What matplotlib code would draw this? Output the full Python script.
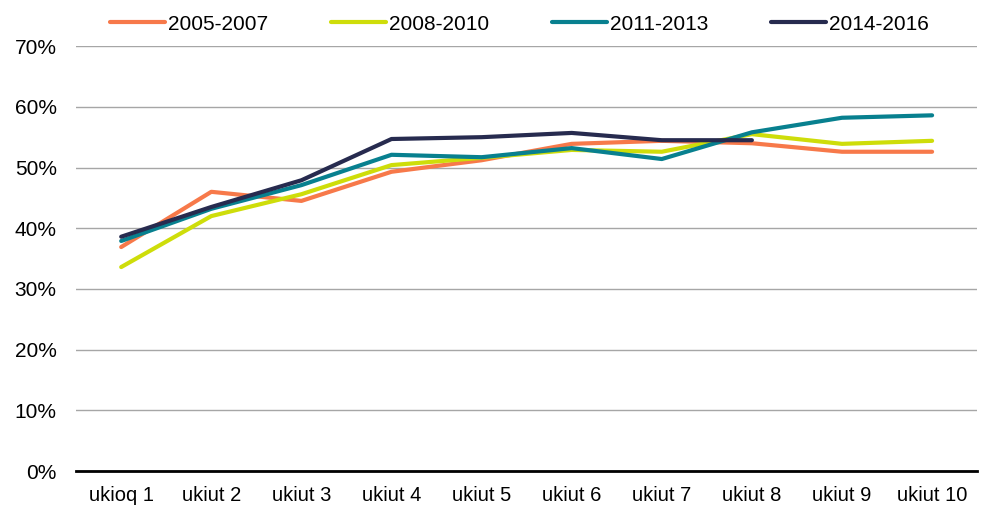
import matplotlib
matplotlib.use('Agg')
import matplotlib.pyplot as plt
from matplotlib.ticker import PercentFormatter

plt.rcParams['font.family'] = ['Liberation Sans', 'DejaVu Sans']

categories = ['ukioq 1', 'ukiut 2', 'ukiut 3', 'ukiut 4', 'ukiut 5',
              'ukiut 6', 'ukiut 7', 'ukiut 8', 'ukiut 9', 'ukiut 10']
s2005 = [36.9, 46.0, 44.5, 49.3, 51.2, 53.9, 54.4, 54.0, 52.6, 52.6]
s2008 = [33.6, 42.0, 45.6, 50.4, 51.6, 52.9, 52.6, 55.5, 53.9, 54.4]
s2011 = [37.9, 43.2, 47.1, 52.1, 51.7, 53.2, 51.4, 55.8, 58.2, 58.6]
s2014 = [38.6, 43.5, 47.9, 54.7, 55.0, 55.7, 54.5, 54.5]
labels = ['2005-2007', '2008-2010', '2011-2013', '2014-2016']
colors = ['#F7794A', '#CEDD0A', '#08808F', '#272B4F']

fig = plt.figure(figsize=(9.89, 5.07), dpi=100)
ax = fig.add_axes([0.077, 0.071, 0.911, 0.838])

x = list(range(len(categories)))
for data, lab, col in zip([s2005, s2008, s2011, s2014], labels, colors):
    ax.plot(x[:len(data)], data, color=col, linewidth=3, label=lab,
            solid_capstyle='round')

ax.set_ylim(0, 70)
ax.set_xlim(-0.5, len(categories) - 0.5)
ax.set_yticks(range(0, 71, 10))
ax.yaxis.set_major_formatter(PercentFormatter(decimals=0))
ax.set_xticks(x)
ax.set_xticklabels(categories)
ax.tick_params(length=0, colors='black')
ax.tick_params(axis='x', pad=11, labelsize=14.5)
ax.tick_params(axis='y', pad=14, labelsize=15)
ax.grid(axis='y', color='#A6A6A6', linewidth=1)
ax.set_axisbelow(True)
for side in ['top', 'right', 'left']:
    ax.spines[side].set_visible(False)
ax.spines['bottom'].set_linewidth(2)
ax.spines['bottom'].set_color('black')

ax.legend(loc='lower center', bbox_to_anchor=(0.492, 1.0), ncol=4, frameon=False,
          fontsize=15, handlelength=2.65, columnspacing=3.0, handletextpad=0.15,
          borderaxespad=0.2)

fig.savefig('out.png', dpi=100)
